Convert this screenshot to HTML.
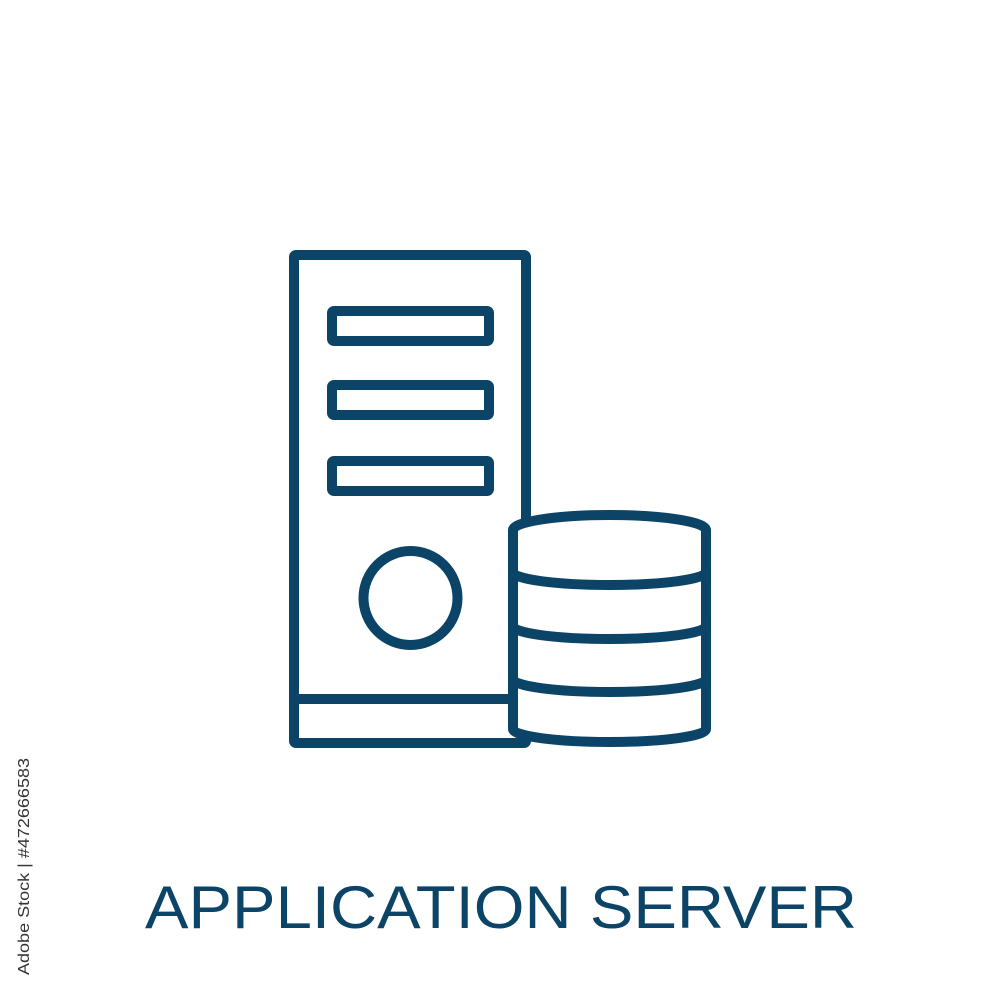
<!DOCTYPE html>
<html><head><meta charset="utf-8"><style>
html,body{margin:0;padding:0;background:#fff;}
svg{display:block;}
</style></head><body>
<svg width="1000" height="1000" viewBox="0 0 1000 1000" xmlns="http://www.w3.org/2000/svg">
<rect width="1000" height="1000" fill="#fff"/>
<g fill="none" stroke="#0b4467" stroke-width="10" stroke-linejoin="round" stroke-linecap="round">
  <rect x="294" y="255" width="232" height="488" rx="2"/>
  <line x1="294" y1="699" x2="520" y2="699"/>
  <rect x="332" y="311" width="157" height="30" rx="2"/>
  <rect x="332" y="385" width="157" height="30" rx="2"/>
  <rect x="332" y="461" width="157" height="30" rx="2"/>
  <circle cx="410.5" cy="598" r="47"/>
</g>
<g stroke="#0b4467" stroke-width="10" stroke-linejoin="round" stroke-linecap="round">
  <path d="M513,530 A96.5,15 0 0 1 706,530 L706,729 A96.5,13 0 0 1 513,729 Z" fill="#fff"/>
  <path d="M513,572 A96.5,13 0 0 0 706,572" fill="none"/>
  <path d="M513,626 A96.5,13 0 0 0 706,626" fill="none"/>
  <path d="M513,679 A96.5,13 0 0 0 706,679" fill="none"/>
</g>
<text x="145" y="928" font-family="Liberation Sans, sans-serif" font-size="60" fill="#0b4467" textLength="712" lengthAdjust="spacingAndGlyphs">APPLICATION SERVER</text>
<text transform="translate(29,975) rotate(-90)" font-family="Liberation Sans, sans-serif" font-size="16" fill="#333" textLength="217" lengthAdjust="spacingAndGlyphs">Adobe Stock | #472666583</text>
</svg>
</body></html>
